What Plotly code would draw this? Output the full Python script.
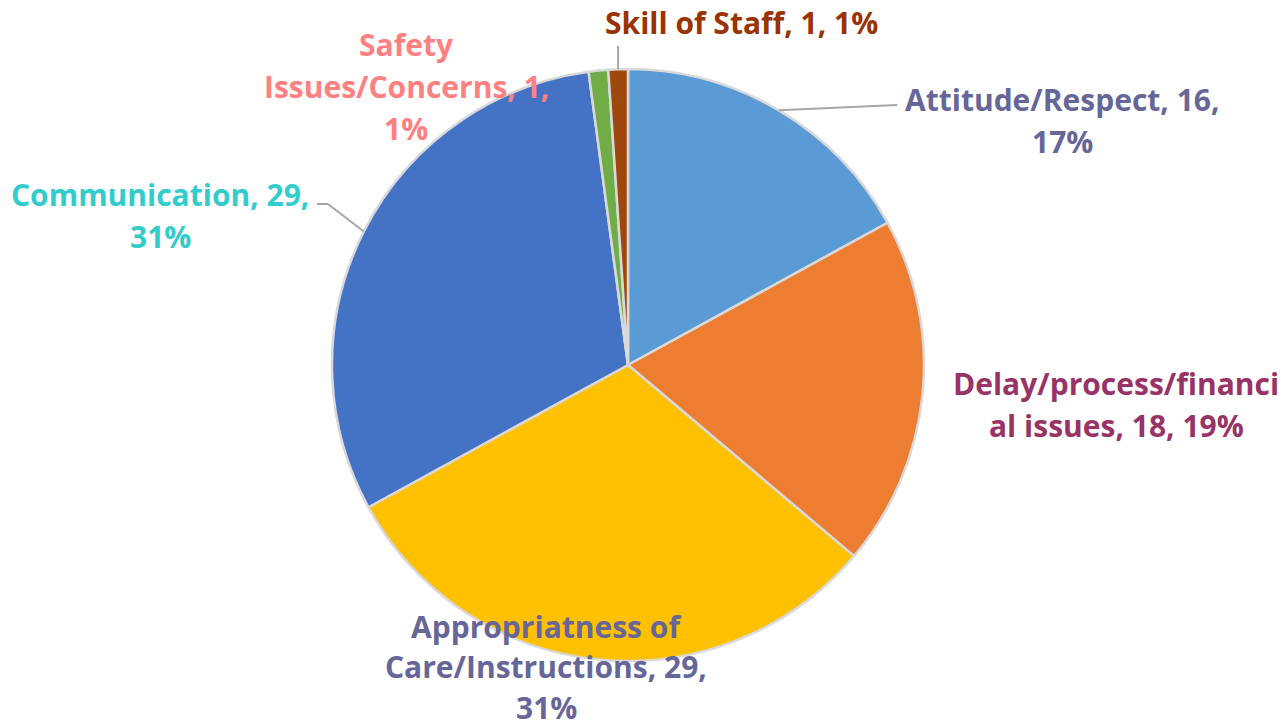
import math
import plotly.graph_objects as go

W, H = 1285, 728

categories = ["Attitude/Respect", "Delay/process/financial issues",
              "Appropriatness of Care/Instructions", "Communication",
              "Safety Issues/Concerns", "Skill of Staff"]
values = [16, 18, 29, 29, 1, 1]
slice_colors = ["#5B9BD5", "#ED7D31", "#FFC000", "#4472C4", "#70AD47", "#9E480E"]
label_colors = ["#666699", "#993366", "#666699", "#33CCCC", "#FF8080", "#993300"]

total = sum(values)
pcts = [round(v / total * 100) for v in values]

# label line layout (text, centre x px, first line y px, line gap px)
label_lines = [
    ([f"Attitude/Respect, {values[0]},", f"{pcts[0]}%"], 1062, 100, 42),
    ([f"Delay/process/financi", f"al issues, {values[1]}, {pcts[1]}%"], 1116, 383, 42),
    ([f"Appropriatness of", f"Care/Instructions, {values[2]},", f"{pcts[2]}%"], 546, 626, 40.5),
    ([f"Communication, {values[3]},", f"{pcts[3]}%"], 160, 195, 42),
    ([f"Safety", f"Issues/Concerns, {values[4]},", f"{pcts[4]}%"], 406, 44, 42),
    ([f"Skill of Staff, {values[5]}, {pcts[5]}%"], 742, 22, 42),
]

# pie geometry (pixels)
cx, cy, R = 628, 365, 296

fig = go.Figure(go.Pie(
    labels=categories, values=values, sort=False, direction="clockwise",
    rotation=0, textinfo="none", hoverinfo="label+value+percent",
    marker=dict(colors=slice_colors, line=dict(color="#D9D9D9", width=2.5)),
    domain=dict(x=[(cx - R) / W, (cx + R) / W], y=[1 - (cy + R) / H, 1 - (cy - R) / H]),
    showlegend=False,
))

def px(x, y):
    return x / W, 1 - y / H

annotations = []
for (lines, x, y0, gap), col in zip(label_lines, label_colors):
    for i, t in enumerate(lines):
        ax, ay = px(x, y0 + i * gap)
        annotations.append(dict(text=t, x=ax, y=ay, xref="paper", yref="paper",
                                xanchor="center", yanchor="middle", showarrow=False,
                                borderpad=0,
                                font=dict(family="Open Sans", size=30, color=col, weight="bold")))

# leader lines from slice mid-angles
cum = 0
mids = []
for v in values:
    mids.append((cum + v / 2) / total * 2 * math.pi)
    cum += v

def edge(i):
    a = mids[i]
    return cx + R * math.sin(a), cy - R * math.cos(a)

shapes = []
def seg(p1, p2):
    x0, y0 = px(*p1)
    x1, y1 = px(*p2)
    shapes.append(dict(type="line", xref="paper", yref="paper", x0=x0, y0=y0, x1=x1, y1=y1,
                       line=dict(color="#A6A6A6", width=2)))

# Attitude
e = edge(0)
seg(e, (897, 105))
# Communication
e = edge(3)
seg(e, (328, 204))
seg((328, 204), (317, 204))
# Skill of Staff
e = edge(5)
seg(e, (e[0], 46))

fig.update_layout(width=W, height=H, autosize=False,
                  margin=dict(l=0, r=0, t=0, b=0),
                  paper_bgcolor="white", plot_bgcolor="white",
                  annotations=annotations, shapes=shapes)

fig.write_html("out.html")
